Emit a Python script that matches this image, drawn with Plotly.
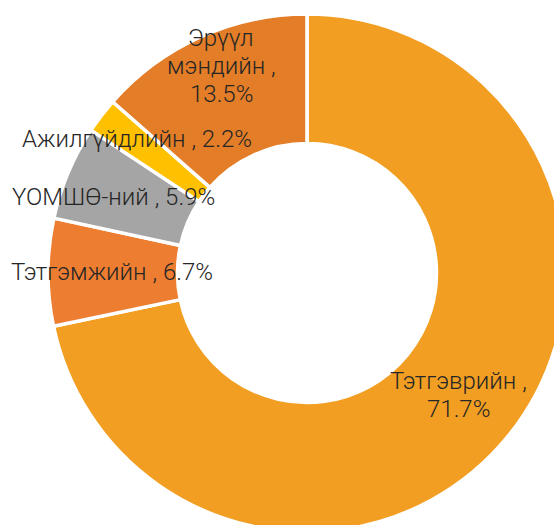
import plotly.graph_objects as go

# ---- data ----
labels = ["Тэтгэврийн", "Тэтгэмжийн", "ҮОМШӨ-ний", "Ажилгүйдлийн", "Эрүүл мэндийн"]
values = [71.7, 6.7, 5.9, 2.2, 13.5]
colors = ["#F19E22", "#ED7D31", "#A5A5A5", "#FFC000", "#E37D27"]

# label line breaks (text only)
label_lines = [
    ["Тэтгэврийн ,", "{v}%"],
    ["Тэтгэмжийн , {v}%"],
    ["ҮОМШӨ-ний , {v}%"],
    ["Ажилгүйдлийн , {v}%"],
    ["Эрүүл", "мэндийн ,", "{v}%"],
]

# ---- layout geometry (pixels) ----
W, H = 612, 546
cx, cy, R = 307, 273, 259
# label anchor (center x, first-line center y) in pixels
label_pos = [(458, 381), (112, 272), (113, 197), (137, 139), (221, 38)]
line_pitch = 28

fig = go.Figure(go.Pie(
    labels=labels,
    values=values,
    marker=dict(colors=colors, line=dict(color="white", width=3.5)),
    hole=0.5,
    sort=False,
    direction="clockwise",
    rotation=0,
    textinfo="none",
    hoverinfo="label+percent",
    showlegend=False,
    domain=dict(x=[(cx - R) / W, (cx + R) / W], y=[(H - cy - R) / H, (H - cy + R) / H]),
))

annotations = []
for lines, v, (px, py) in zip(label_lines, values, label_pos):
    for i, ln in enumerate(lines):
        annotations.append(dict(
            x=px / W, y=1 - (py + i * line_pitch) / H, xref="paper", yref="paper",
            text=ln.format(v=v), showarrow=False, xanchor="center", yanchor="middle",
            font=dict(family="Roboto", size=24, color="#262626", weight=300),
        ))

fig.update_layout(
    width=W, height=H,
    margin=dict(l=0, r=0, t=0, b=0),
    paper_bgcolor="white", plot_bgcolor="white",
    annotations=annotations,
)

fig.write_html(
    "out.html",
    post_script="document.body.style.margin='0';document.body.style.overflow='hidden';document.documentElement.style.overflow='hidden';",
)
